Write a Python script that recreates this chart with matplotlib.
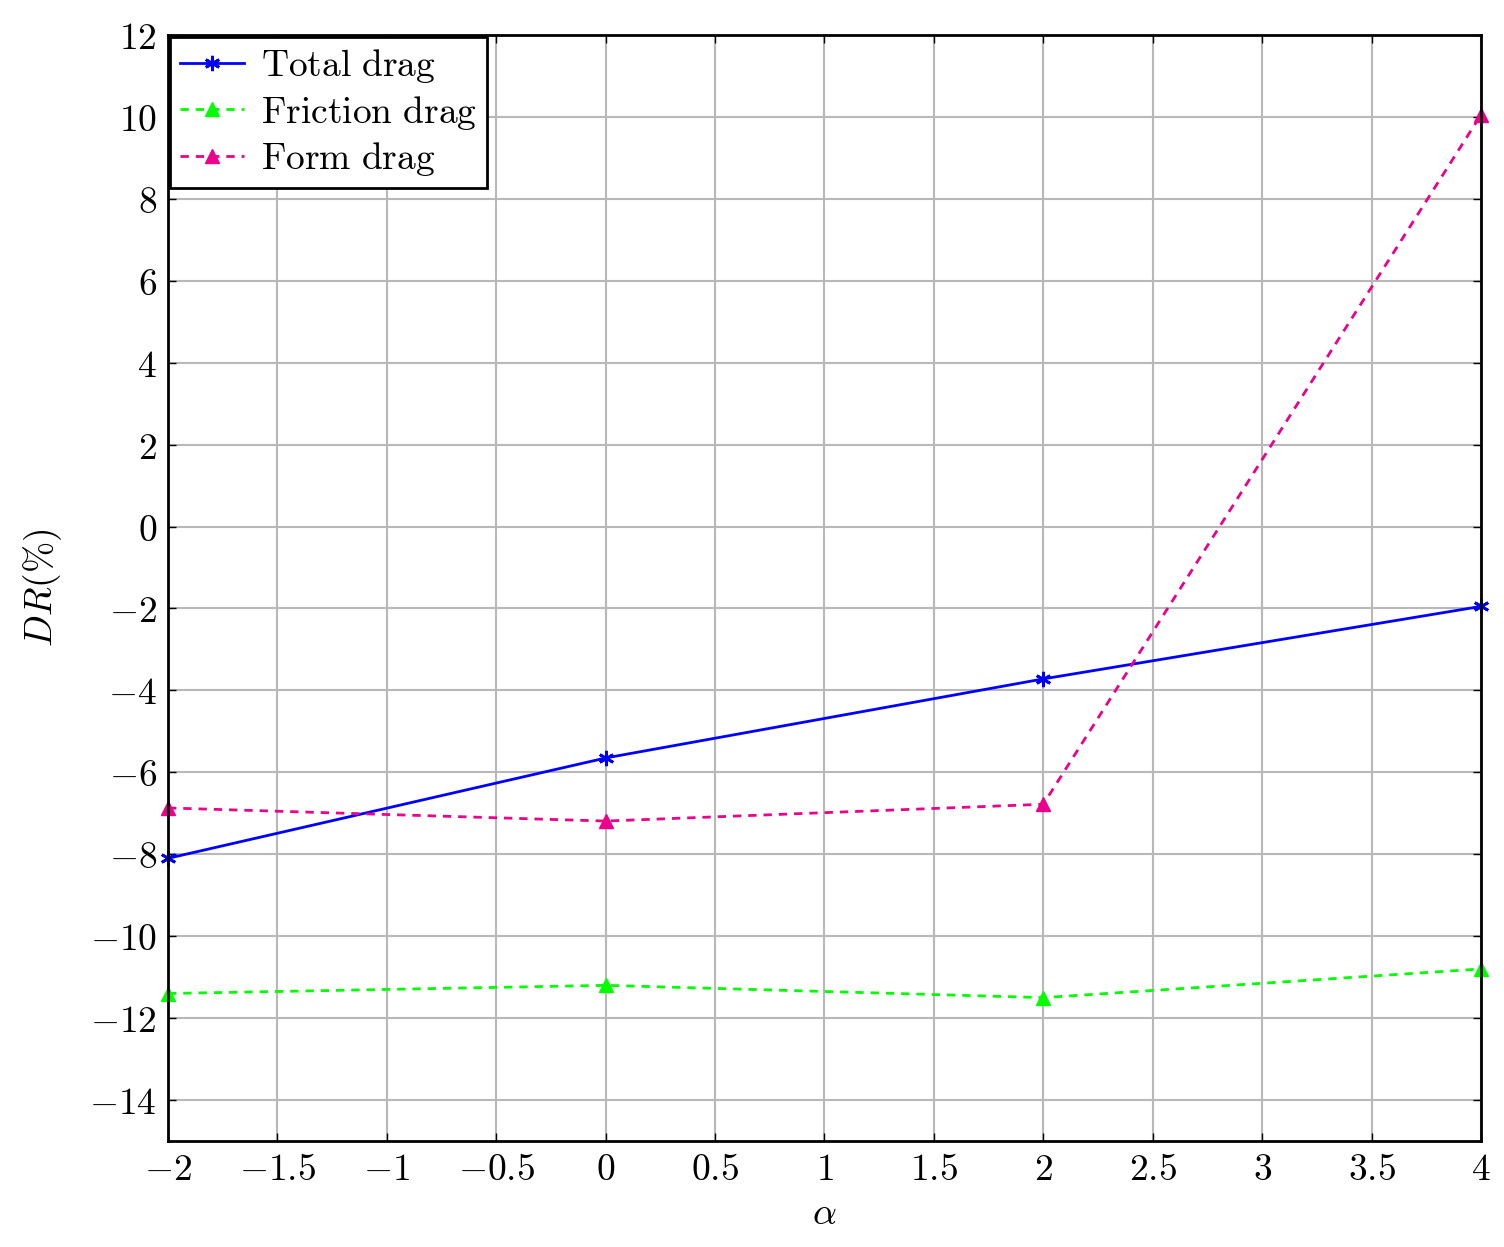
import matplotlib.pyplot as plt

plt.rcParams["mathtext.fontset"] = "cm"
plt.rcParams["font.family"] = "serif"
plt.rcParams["font.serif"] = ["DejaVu Serif"]

# Data
alpha = [-2, 0, 2, 4]
total_drag = [-8.1, -5.65, -3.72, -1.95]
friction_drag = [-11.4, -11.2, -11.5, -10.8]
form_drag = [-6.87, -7.19, -6.78, 10.05]

x_ticks = [-2, -1.5, -1, -0.5, 0, 0.5, 1, 1.5, 2, 2.5, 3, 3.5, 4]
y_ticks = [-14, -12, -10, -8, -6, -4, -2, 0, 2, 4, 6, 8, 10, 12]

fig = plt.figure(figsize=(15.04, 12.47), dpi=100)
ax = fig.add_axes([0.1117, 0.085, 0.873, 0.887])

ax.plot(alpha, total_drag, color="#0000FF", lw=2, marker=(6, 2, 0), ms=11, mew=2,
        clip_on=False, label=r"$\mathrm{Total\ drag}$")
ax.plot(alpha, friction_drag, color="#00FF00", lw=2, ls=(0, (3, 2.5)), marker="^",
        ms=10, clip_on=False, label=r"$\mathrm{Friction\ drag}$")
ax.plot(alpha, form_drag, color="#EC008C", lw=2, ls=(0, (3, 2.5)), marker="^",
        ms=10, clip_on=False, label=r"$\mathrm{Form\ drag}$")

ax.set_xlim(-2, 4)
ax.set_ylim(-15, 12)
ax.set_xticks(x_ticks, labels=[f"${t:g}$" for t in x_ticks])
ax.set_yticks(y_ticks, labels=[f"${t:g}$" for t in y_ticks])
ax.tick_params(direction="in", length=6, width=1, labelsize=27, top=True, right=True,
               pad=8)
ax.grid(True, color="#b8b8b8", lw=1.5)
ax.set_axisbelow(True)
for s in ax.spines.values():
    s.set_linewidth(2)

ax.set_xlabel(r"$\alpha$", fontsize=27, labelpad=6)
ax.set_ylabel(r"$DR(\%)$", fontsize=27, labelpad=18)

leg = ax.legend(loc="upper left", fontsize=27, fancybox=False, framealpha=1,
                edgecolor="black", borderaxespad=0.05, handlelength=1.7,
                handletextpad=0.45, labelspacing=0.22, borderpad=0.28)
leg.get_frame().set_linewidth(2)

plt.savefig("out.png", dpi=100)
